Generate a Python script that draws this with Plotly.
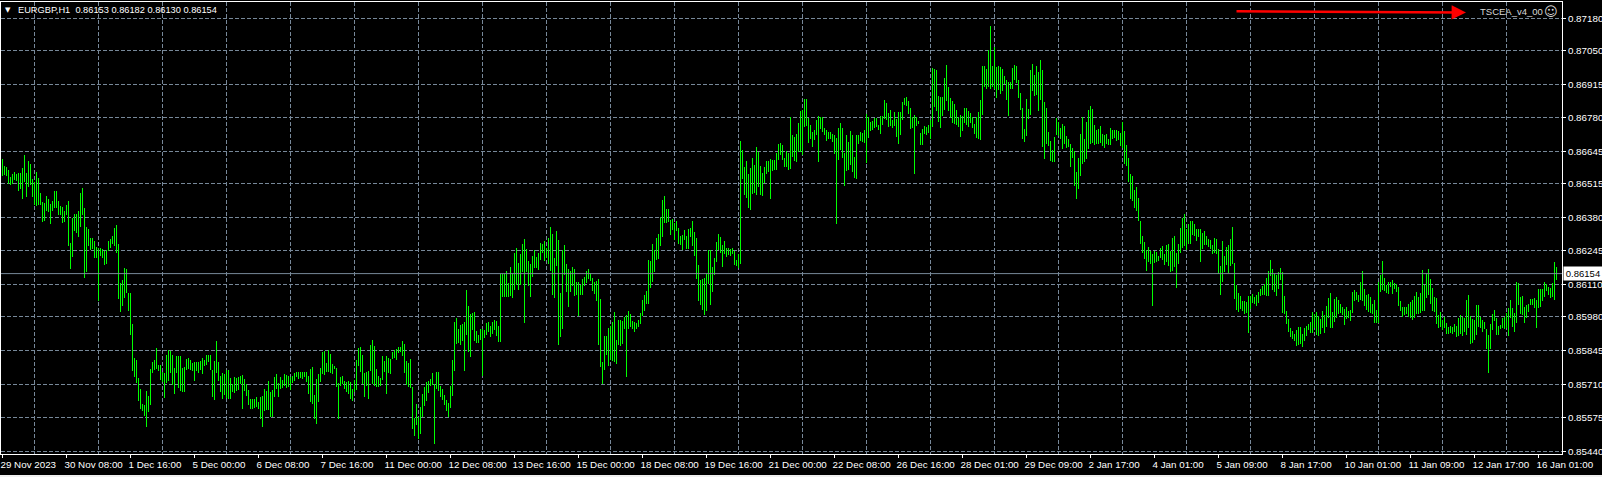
import plotly.graph_objects as go

symbol_text = "EURGBP,H1  0.86153 0.86182 0.86130 0.86154"
ea_text = "TSCEA_v4_00"
last_price = 0.86154

x_labels = ["29 Nov 2023","30 Nov 08:00","1 Dec 16:00","5 Dec 00:00","6 Dec 08:00","7 Dec 16:00","11 Dec 00:00",
            "12 Dec 08:00","13 Dec 16:00","15 Dec 00:00","18 Dec 08:00","19 Dec 16:00","21 Dec 00:00","22 Dec 08:00",
            "26 Dec 16:00","28 Dec 01:00","29 Dec 09:00","2 Jan 17:00","4 Jan 01:00","5 Jan 09:00","8 Jan 17:00",
            "10 Jan 01:00","11 Jan 09:00","12 Jan 17:00","16 Jan 01:00"]
y_ticks = [87180,87050,86915,86780,86645,86515,86380,86245,86110,85980,85845,85710,85575,85440]

# hourly bar highs and lows, in 1e-5 price units
highs = [
86614,86586,86581,86570,86544,86554,86562,86554,86557,86560,86578,86630,86558,86606,86594,86534,
86522,86562,86538,86477,86442,86437,86466,86454,86433,86446,86486,86486,86446,86426,86422,86406,
86430,86446,86278,86378,86394,86394,86406,86478,86498,86418,86342,86334,86298,86298,86286,86262,
86258,86258,86254,86246,86250,86286,86294,86306,86338,86350,86274,86118,86130,86178,86174,86078,
86075,85953,85813,85805,85733,85689,85629,85625,85681,85661,85769,85797,85805,85857,85785,85785,
85757,85753,85825,85845,85841,85825,85773,85821,85821,85821,85773,85777,85809,85813,85805,85793,
85797,85797,85797,85801,85813,85805,85825,85825,85825,85765,85801,85885,85797,85741,85753,85749,
85765,85765,85733,85709,85737,85733,85737,85741,85745,85729,85709,85685,85649,85649,85649,85657,
85637,85657,85661,85689,85681,85721,85677,85685,85737,85749,85713,85737,85725,85749,85745,85741,
85737,85741,85753,85757,85757,85757,85757,85757,85757,85741,85769,85777,85665,85729,85749,85773,
85837,85841,85793,85845,85829,85789,85781,85773,85713,85737,85741,85721,85717,85721,85717,85689,
85725,85805,85857,85861,85825,85753,85757,85761,85869,85889,85865,85769,85741,85733,85821,85801,
85821,85813,85809,85837,85845,85853,85861,85858,85882,85870,85802,85794,85810,85698,85574,85630,
85578,85618,85670,85698,85718,85722,85730,85754,85710,85758,85758,85702,85690,85666,85646,85634,
85702,85806,85958,85974,85930,85946,85950,85958,86087,86023,85990,85994,85998,85922,85906,85930,
85930,85926,85954,85958,85942,85958,85966,85962,85942,86154,86154,86154,86163,86118,86179,86154,
86235,86255,86195,86231,86272,86292,86252,86204,86191,86223,86248,86219,86235,86276,86272,86284,
86255,86296,86340,86312,86215,86324,86288,86075,86248,86268,86191,86171,86163,86179,86171,86119,
86119,86107,86131,86139,86163,86171,86155,86135,86119,86123,86131,86051,85799,85903,85903,85935,
85943,85959,85999,85887,85967,85967,85963,85979,85987,86003,85991,85963,85959,85955,85967,85995,
86047,86067,86083,86207,86203,86272,86248,86296,86312,86380,86448,86464,86412,86412,86368,86372,
86356,86364,86336,86304,86308,86328,86304,86332,86336,86364,86320,86296,86187,86127,86131,86135,
86151,86248,86248,86179,86215,86280,86312,86300,86268,86284,86255,86255,86251,86255,86243,86207,
86231,86686,86650,86582,86606,86554,86578,86618,86590,86662,86642,86586,86558,86582,86606,86606,
86614,86610,86610,86638,86674,86678,86670,86618,86646,86638,86782,86710,86702,86714,86758,86807,
86811,86855,86855,86778,86750,86722,86730,86770,86786,86782,86782,86738,86730,86722,86722,86714,
86710,86698,86738,86758,86738,86638,86710,86682,86726,86710,86622,86710,86710,86722,86718,86730,
86795,86782,86762,86766,86778,86778,86750,86786,86786,86851,86839,86799,86811,86770,86803,86774,
86803,86803,86843,86859,86863,86847,86819,86782,86790,86782,86766,86718,86734,86746,86742,86750,
86770,86982,86978,86974,86869,86865,86865,86942,86994,86905,86861,86849,86837,86813,86785,86793,
86789,86821,86821,86809,86801,86785,86757,86785,86805,86853,86990,86990,86978,87054,87150,86990,
87066,86986,86990,86986,86978,86950,86934,86926,86926,86982,86994,86990,86934,86881,86821,86737,
86857,86817,86974,86998,86954,86990,86966,87014,86974,86845,86821,86725,86685,86649,86701,86781,
86765,86741,86757,86749,86709,86693,86673,86657,86645,86561,86617,86717,86785,86693,86765,86813,
86829,86817,86753,86733,86737,86749,86717,86713,86717,86693,86741,86733,86733,86733,86729,86721,
86765,86729,86669,86617,86553,86545,86489,86501,86457,86365,86306,86282,86250,86262,86246,86234,
86246,86242,86226,86258,86266,86234,86270,86274,86246,86298,86306,86238,86274,86338,86378,86395,
86334,86354,86366,86366,86354,86334,86334,86334,86318,86326,86306,86294,86290,86270,86298,86294,
86254,86186,86286,86226,86262,86270,86294,86342,86198,86110,86078,86062,86042,86042,86038,86066,
86066,86074,86058,86070,86082,86094,86106,86114,86138,86166,86210,86174,86154,86150,86162,86178,
86162,86065,86005,85973,85937,85925,85913,85929,85941,85941,85913,85937,85945,85953,85961,86001,
85993,86001,85985,85973,86005,85989,86025,86057,86077,86001,86053,86061,86049,86033,86021,86013,
86021,86005,86009,86081,86089,86081,86069,86122,86166,86093,86069,86073,86061,86033,86049,86009,
86122,86150,86206,86138,86109,86122,86122,86130,86117,86113,86101,86045,86021,86021,86021,86033,
86041,86049,86065,86081,86061,86077,86170,86109,86158,86174,86133,86097,86061,86057,85989,86001,
85969,85981,85957,85941,85945,85941,85953,85945,85977,85989,85981,85977,86049,86069,85985,85973,
85969,86029,86029,85981,85969,85961,85933,85909,85953,85993,86009,85977,85945,85949,85977,85981,
85997,86017,86049,86017,85997,86122,86117,86061,86065,86021,86029,86033,86053,86053,86057,86049,
86093,86093,86093,86122,86113,86101,86097,86117,86202,86182,
]
lows = [
86548,86550,86546,86514,86511,86514,86530,86528,86487,86494,86454,86524,86462,86503,86510,86463,
86430,86427,86430,86430,86362,86367,86406,86402,86355,86406,86417,86418,86390,86390,86357,86362,
86390,86266,86174,86222,86326,86318,86302,86342,86390,86138,86162,86266,86250,86254,86218,86218,
86042,86226,86218,86190,86194,86246,86258,86274,86266,86238,86050,85998,86022,86054,86078,86004,
85907,85761,85737,85713,85641,85609,85601,85581,85537,85597,85625,85753,85765,85769,85761,85725,
85717,85653,85713,85721,85753,85705,85669,85753,85693,85681,85677,85677,85765,85769,85765,85761,
85721,85761,85753,85765,85749,85781,85785,85797,85765,85657,85645,85753,85721,85677,85649,85665,
85653,85649,85649,85677,85673,85681,85685,85709,85609,85681,85661,85625,85609,85609,85613,85617,
85609,85569,85537,85601,85605,85605,85577,85577,85657,85689,85657,85689,85693,85701,85693,85697,
85685,85713,85721,85737,85729,85733,85729,85737,85717,85669,85637,85629,85570,85549,85637,85717,
85749,85745,85757,85757,85753,85749,85769,85697,85569,85701,85709,85689,85677,85669,85649,85641,
85677,85685,85781,85757,85709,85657,85701,85649,85761,85709,85701,85697,85697,85701,85725,85757,
85669,85753,85749,85809,85813,85805,85835,85840,85822,85754,85706,85698,85694,85530,85502,85546,
85490,85510,85578,85622,85642,85674,85702,85706,85470,85690,85682,85658,85646,85626,85602,85578,
85614,85662,85762,85870,85874,85866,85882,85762,85906,85838,85818,85926,85882,85874,85874,85886,
85742,85894,85906,85918,85898,85910,85926,85902,85878,85879,86059,86059,86059,86059,86063,86055,
86087,86107,86087,86107,86159,85955,86159,86103,86059,86139,86175,86175,86167,86207,86235,86203,
86215,86191,86163,86067,86055,86183,85867,85899,85931,86147,86079,86019,86079,86103,86063,86067,
85983,86067,86067,86103,86115,86131,86123,86083,86071,86043,85867,85779,85711,85767,85827,85783,
85807,85803,85799,85791,85867,85863,85871,85931,85739,85931,85939,85931,85919,85931,85939,85951,
85983,86003,86031,86031,86095,86119,86159,86207,86211,86264,86300,86356,86356,86360,86308,86328,
86288,86324,86272,86268,86248,86288,86252,86252,86300,86264,86223,86131,86043,86027,86007,85987,
86003,86111,86027,86079,86147,86199,86248,86235,86179,86231,86219,86227,86223,86231,86187,86183,
86175,86194,86534,86470,86458,86418,86410,86474,86478,86470,86502,86470,86466,86518,86554,86562,
86454,86566,86570,86570,86610,86630,86610,86582,86582,86570,86574,86622,86606,86602,86642,86642,
86630,86742,86746,86678,86694,86662,86690,86710,86602,86734,86722,86710,86686,86694,86694,86682,
86634,86354,86610,86650,86618,86506,86566,86570,86590,86562,86538,86534,86674,86686,86682,86678,
86598,86698,86726,86730,86738,86742,86730,86714,86750,86774,86770,86742,86746,86738,86746,86702,
86674,86710,86770,86831,86827,86795,86734,86738,86554,86746,86754,86670,86670,86714,86710,86718,
86694,86745,86825,86809,86765,86741,86789,86813,86849,86809,86781,86761,86757,86753,86745,86701,
86729,86761,86753,86745,86761,86741,86717,86697,86693,86689,86793,86905,86897,86905,86897,86905,
86897,86861,86893,86877,86889,86917,86853,86789,86897,86897,86934,86922,86861,86813,86693,86681,
86705,86777,86793,86889,86869,86873,86809,86853,86661,86613,86673,86665,86605,86601,86601,86713,
86709,86693,86653,86673,86657,86661,86581,86617,86505,86453,86493,86545,86593,86601,86613,86653,
86673,86677,86669,86673,86673,86677,86665,86657,86673,86669,86669,86693,86697,86685,86689,86665,
86657,86593,86585,86521,86453,86445,86417,86405,86365,86273,86238,86214,86166,86202,86194,86022,
86198,86202,86206,86218,86210,86190,86202,86186,86162,86166,86182,86098,86194,86238,86258,86266,
86250,86274,86274,86310,86306,86286,86302,86202,86254,86270,86270,86262,86254,86234,86238,86234,
86154,86070,86122,86162,86190,86158,86186,86194,86050,86006,85998,86010,86002,85990,85994,85914,
86010,86034,86030,86022,86034,86066,86070,86070,86066,86066,86146,86090,86082,86062,86094,86130,
85996,85993,85953,85921,85901,85893,85885,85865,85868,85873,85861,85885,85905,85929,85917,85917,
85937,85909,85905,85913,85937,85917,85941,85977,85937,85937,85961,85977,85993,85997,85989,85949,
85973,85977,85965,85997,86045,86049,86041,86049,86045,86025,86009,86001,85997,85993,85957,85957,
85957,86081,86089,86085,86077,86073,86101,86073,86093,86081,86025,86005,85981,85989,85993,85981,
85977,85969,85977,85993,85993,85997,86005,86005,86057,86069,86033,86005,86001,85953,85937,85941,
85929,85937,85913,85913,85917,85913,85921,85901,85905,85913,85905,85921,85909,85937,85873,85877,
85889,85909,85941,85937,85921,85933,85853,85753,85853,85929,85965,85909,85909,85933,85937,85933,
85937,85905,85977,85941,85921,85957,86029,85993,85989,85957,85977,86001,86029,86029,86017,85937,
86017,86021,86045,86061,86085,86069,86057,86061,86049,86130,
]
assert len(highs) == len(lows), (len(highs), len(lows))

GREEN = "#00ff00"
GRID = "#778899"
FONT = "Liberation Sans"

xs, ys = [], []
for i, (h, l) in enumerate(zip(highs, lows)):
    xs += [i, i, None]
    ys += [l / 1e5, h / 1e5, None]

fig = go.Figure(go.Scatter(x=xs, y=ys, mode="lines", line=dict(color=GREEN, width=1, simplify=False),
                           hoverinfo="skip", showlegend=False))

label_bars = [32 * k for k in range(len(x_labels))]
grid_bars = [16 + 32 * k for k in range(48)]

fig.update_layout(
    width=1602, height=477, autosize=False,
    margin=dict(l=1, r=40, t=2, b=23, pad=0),
    paper_bgcolor="#000000", plot_bgcolor="#000000",
    font=dict(family=FONT, size=9.8, color="#ffffff"),
    xaxis=dict(range=[-0.75, 779.75], automargin=False, tickmode="array", tickvals=label_bars, ticktext=x_labels,
               showgrid=False, zeroline=False, ticks="outside", ticklen=3, tickcolor="#ffffff",
               showline=True, linecolor="#ffffff", linewidth=1, mirror=True,
               ticklabelposition="outside right", ticklabelshift=-3, ticklabelstandoff=1, tickangle=0,
               minor=dict(tickmode="array", tickvals=grid_bars, showgrid=True, gridcolor=GRID,
                          griddash="4px,2px", gridwidth=1, ticks="")),
    yaxis=dict(side="right", range=[0.85429, 0.872455], automargin=False, tickmode="array",
               tickvals=[v / 1e5 for v in y_ticks], ticktext=["%.5f" % (v / 1e5) for v in y_ticks],
               showgrid=True, gridcolor=GRID, griddash="4px,2px", gridwidth=1, zeroline=False,
               ticks="outside", ticklen=3, tickcolor="#ffffff",
               showline=True, linecolor="#ffffff", linewidth=1, mirror=True),
    shapes=[dict(type="line", xref="paper", x0=0, x1=1, yref="y", y0=last_price, y1=last_price,
                 line=dict(color=GRID, width=1), layer="above"),
            dict(type="rect", xref="paper", yref="paper", x0=-0.001, x1=1.03, y0=-0.06, y1=-0.0465,
                 fillcolor="#f0f0f0", line=dict(width=0))],
    annotations=[
        dict(xref="paper", yref="paper", x=0.0098, y=0.9825, xanchor="left", yanchor="middle", showarrow=False,
             text=symbol_text.replace("  ", "&nbsp;&nbsp;"), font=dict(family=FONT, size=9.25, color="#ffffff")),
        dict(xref="paper", yref="paper", x=0.0015, y=0.9825, xanchor="left", yanchor="middle", showarrow=False,
             text="▼", font=dict(family="DejaVu Sans", size=7, color="#ffffff")),
        dict(xref="paper", yref="paper", x=0.9890, y=0.98, xanchor="right", yanchor="middle", showarrow=False,
             text=ea_text, font=dict(family=FONT, size=9.5, color="#d8d8d8")),
        dict(xref="paper", yref="paper", x=0.9985, y=0.98, xanchor="right", yanchor="middle", showarrow=False,
             text="☺", font=dict(family="DejaVu Sans", size=13, color="#d8d8d8")),
        dict(xref="paper", yref="paper", x=0.9385, y=0.9768, ax=-231, ay=-1.3, axref="pixel", ayref="pixel",
             showarrow=True, arrowhead=2, arrowsize=1.15, arrowwidth=2.5, arrowcolor="#ff0000", text=""),
        dict(xref="paper", x=1.0005, xanchor="left", yref="y", y=last_price, yanchor="middle", showarrow=False,
             text="0.86154", bgcolor="#ffffff", font=dict(family=FONT, size=9.5, color="#000000"),
             borderpad=1, width=36),
    ],
)
fig.write_html("out.html", config=dict(displayModeBar=False, responsive=False),
               post_script="document.body.style.margin='0';document.body.style.background='#000';"
                           "var s=document.createElement('style');"
                           "s.textContent='.js-line{shape-rendering:crispEdges}';document.head.appendChild(s);")
